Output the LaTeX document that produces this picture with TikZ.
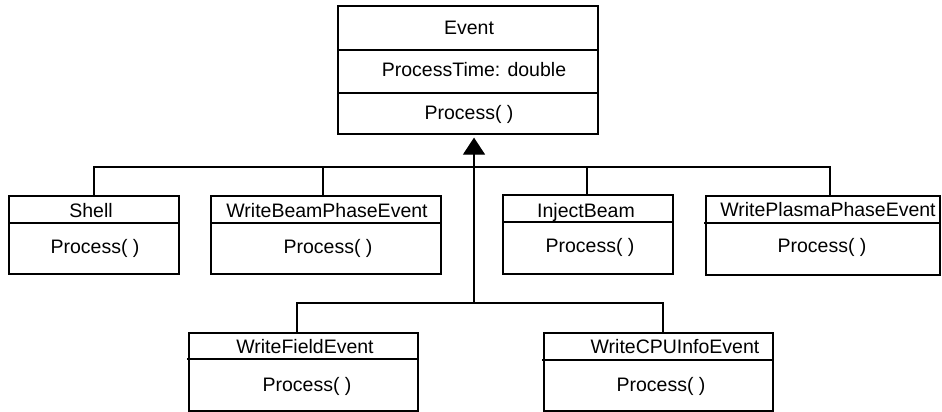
\documentclass[tikz,border=0pt]{standalone}
\usepackage{fontspec}
\setmainfont{Liberation Sans}
\usetikzlibrary{arrows.meta}
\begin{document}
\begin{tikzpicture}[x=1pt,y=-1pt,
  classbox/.style={draw, line width=1.2pt, rectangle, inner sep=0pt},
  lbl/.style={inner sep=0pt, anchor=base, font=\fontsize{19.5}{23}\selectfont},
  divider/.style={line width=1.2pt},
  link/.style={line width=1.2pt},
  inherit/.style={link, -{Triangle[width=22pt,length=17pt]}, shorten >=3pt}]
\useasboundingbox (0,0) rectangle (942,412);

% Event
\node[classbox, minimum width=260pt, minimum height=128pt] (event) at (468,70) {};
\draw[divider] (338,50) -- (598,50);
\draw[divider] (338,93) -- (598,93);
\node[lbl] (eventname) at (469,35) {Event};
\node[lbl] (eventattr) at (474,77) {ProcessTime: double};
\node[lbl] (eventop) at (469,119) {Process( )};

% Shell
\node[classbox, minimum width=170pt, minimum height=78pt] (shell) at (94,235) {};
\draw[divider] (9,223) -- (179,223);
\node[lbl] (shellname) at (91,217) {Shell};
\node[lbl] (shellop) at (95,253) {Process( )};

% WriteBeamPhaseEvent
\node[classbox, minimum width=230pt, minimum height=78pt] (wbpe) at (326,235) {};
\draw[divider] (211,223) -- (441,223);
\node[lbl] (wbpename) at (327,217) {WriteBeamPhaseEvent};
\node[lbl] (wbpeop) at (328,253) {Process( )};

% InjectBeam
\node[classbox, minimum width=170pt, minimum height=79pt] (inj) at (588,234.5) {};
\draw[divider] (503,222) -- (673,222);
\node[lbl] (injname) at (586,217) {InjectBeam};
\node[lbl] (injop) at (590,252) {Process( )};

% WritePlasmaPhaseEvent
\node[classbox, minimum width=234pt, minimum height=79pt] (wppe) at (823,235.5) {};
\draw[divider] (704,223) -- (940,223);
\node[lbl] (wppename) at (828,216) {WritePlasmaPhaseEvent};
\node[lbl] (wppeop) at (822,252) {Process( )};

% WriteFieldEvent
\node[classbox, minimum width=229pt, minimum height=78pt] (wfe) at (303.5,372) {};
\draw[divider] (187,359) -- (418,359);
\node[lbl] (wfename) at (305,353) {WriteFieldEvent};
\node[lbl] (wfeop) at (307,391) {Process( )};

% WriteCPUInfoEvent
\node[classbox, minimum width=229pt, minimum height=78pt] (wcpu) at (658.5,372) {};
\draw[divider] (542,360) -- (773,360);
\node[lbl] (wcpuname) at (675,353) {WriteCPUInfoEvent};
\node[lbl] (wcpuop) at (661,391) {Process( )};

% connectors
\coordinate (b1) at (474,167);
\coordinate (b2) at (474,303);
\draw[link] (shell.north) |- (b1) -| ([xshift=7pt]wppe.north);
\draw[link] ([xshift=-3pt]wbpe.north) |- (b1);
\draw[link] ([xshift=-1pt]inj.north) |- (b1);
\draw[link] ([xshift=-6.5pt]wfe.north) |- (b2) -| ([xshift=4.5pt]wcpu.north);
\draw[inherit] (b2) -- (b2 |- event.south);
\end{tikzpicture}
\end{document}
